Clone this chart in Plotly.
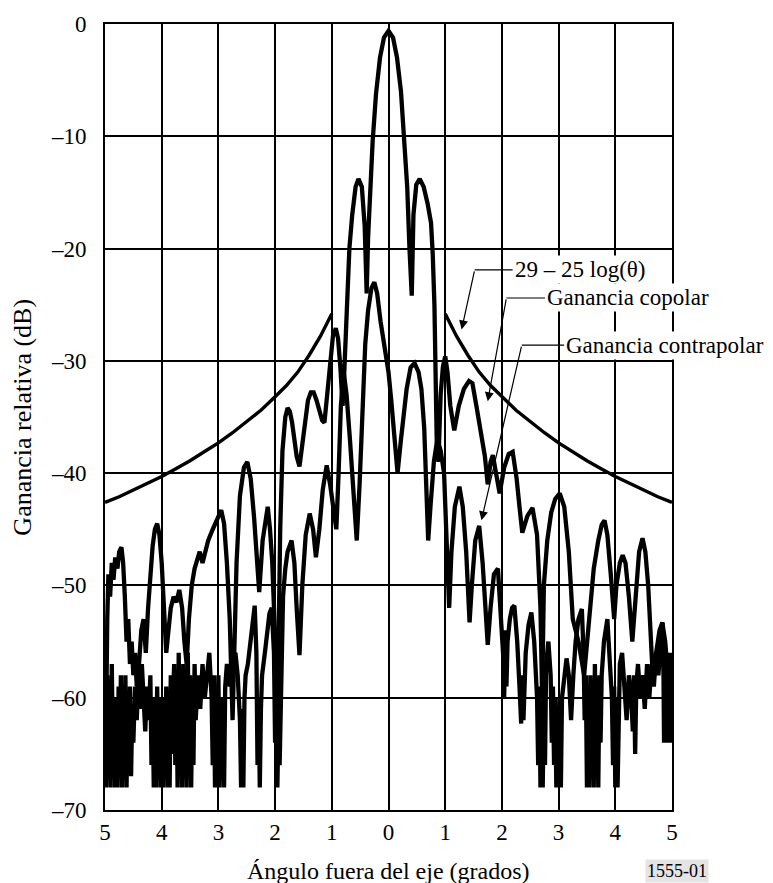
import plotly.graph_objects as go

# ---------------- data ----------------
copolar_theta = [
    -5.00, -4.98, -4.96, -4.94, -4.91, -4.88, -4.85, -4.82, -4.78, -4.75, -4.71, -4.68, -4.65, -4.62,
    -4.59, -4.56, -4.53, -4.50, -4.47, -4.44, -4.40, -4.36, -4.32, -4.28, -4.24, -4.20, -4.16, -4.12,
    -4.08, -4.04, -4.00, -3.96, -3.92, -3.88, -3.84, -3.79, -3.74, -3.69, -3.64, -3.60, -3.56, -3.52,
    -3.47, -3.42, -3.37, -3.33, -3.28, -3.23, -3.18, -3.10, -3.02, -2.95, -2.90, -2.85, -2.80, -2.77,
    -2.75, -2.72, -2.68, -2.62, -2.55, -2.49, -2.43, -2.37, -2.32, -2.28, -2.22, -2.16, -2.13, -2.09,
    -2.05, -2.02, -1.99, -1.97, -1.94, -1.91, -1.87, -1.82, -1.78, -1.74, -1.70, -1.66, -1.62, -1.57,
    -1.52, -1.47, -1.42, -1.37, -1.32, -1.27, -1.22, -1.17, -1.13, -1.08, -1.03, -0.98, -0.93, -0.89,
    -0.85, -0.81, -0.78, -0.74, -0.69, -0.64, -0.58, -0.53, -0.47, -0.42, -0.385, -0.36, -0.32, -0.28,
    -0.22, -0.15, -0.08, 0.00,
    0.08, 0.15, 0.22, 0.28, 0.33, 0.37, 0.41, 0.44, 0.49, 0.55, 0.62, 0.69, 0.75, 0.78,
    0.81, 0.85, 0.88, 0.92, 0.96, 1.00, 1.04, 1.09, 1.16, 1.24, 1.33, 1.42, 1.48, 1.55,
    1.62, 1.70, 1.75, 1.80, 1.84, 1.90, 1.96, 2.04, 2.12, 2.19, 2.26, 2.31, 2.36, 2.45,
    2.54, 2.62, 2.68, 2.71, 2.74, 2.80, 2.87, 2.94, 3.02, 3.10, 3.18, 3.25, 3.35, 3.45,
    3.55, 3.62, 3.70, 3.76, 3.81, 3.86, 3.92, 3.98, 4.02, 4.08, 4.13, 4.18, 4.24, 4.30,
    4.36, 4.42, 4.48, 4.53, 4.58, 4.62, 4.66, 4.72, 4.78, 4.83, 4.88, 4.93, 4.97, 5.00,
]
copolar_db = [
    -55, -62, -53, -49, -51, -48, -49.5, -47.5, -48.5, -47, -46.6, -48, -51, -55,
    -53, -57, -55, -58, -56, -59, -57, -54, -53, -56, -52, -49, -46.5, -45,
    -44.5, -45.5, -48, -52, -56, -54, -52, -51, -51.5, -50.4, -52, -55, -57, -53,
    -50, -48.5, -47.5, -47, -48, -47, -46, -45, -44, -43.3, -44.5, -48, -53, -58,
    -62, -56, -48, -42, -39.5, -39, -40.5, -44, -48, -50.6, -46, -43.5, -43, -45,
    -48, -52, -58, -66, -55, -45, -38, -35, -34.2, -34.5, -35.5, -37, -38.5, -39.4,
    -37.5, -35, -33.5, -32.8, -32.8, -33.5, -34.5, -35.3, -35.5, -33, -30, -27.8, -27.1, -28,
    -30.5, -34, -31, -25, -20, -17, -14.5, -13.8, -14.5, -18, -24, -19, -14.5, -10.5,
    -6.2, -3.0, -1.2, -0.6,
    -1.2, -3.0, -6.0, -10, -14.5, -20, -24.2, -17, -14.3, -13.8, -14.5, -16, -17.7, -20.5,
    -25, -37, -39, -33, -30.5, -29.6, -31, -34, -36.2, -34, -32.5, -31.8, -32, -34,
    -36, -38.5, -41, -39, -38.4, -40, -41.8, -39.5, -38.3, -38.1, -40.5, -43, -45.3, -43.8,
    -43.1, -45.5, -52, -60, -50, -46, -43.5, -42.3, -41.8, -43, -47, -53, -55, -58,
    -52, -48.5, -46, -44.6, -44.2, -45.5, -49, -53, -50, -48, -47.3, -48, -51, -55,
    -51, -47, -45.8, -47, -50, -55, -58, -56, -54, -53.3, -55, -58, -57, -60,
]

contrapolar_theta = [
    -5.00, -4.98, -4.96, -4.94, -4.92, -4.90, -4.88, -4.86, -4.84, -4.82, -4.80, -4.78, -4.76, -4.74,
    -4.72, -4.70, -4.68, -4.66, -4.64, -4.62, -4.60, -4.58, -4.56, -4.54, -4.52, -4.50, -4.47, -4.44,
    -4.41, -4.38, -4.35, -4.32, -4.29, -4.26, -4.23, -4.20, -4.18, -4.16, -4.14, -4.12, -4.10, -4.08,
    -4.06, -4.04, -4.02, -4.00, -3.98, -3.96, -3.94, -3.92, -3.90, -3.88, -3.86, -3.84, -3.82, -3.80,
    -3.78, -3.76, -3.74, -3.72, -3.70, -3.68, -3.66, -3.64, -3.62, -3.60, -3.58, -3.56, -3.54, -3.52,
    -3.50, -3.48, -3.46, -3.44, -3.42, -3.40, -3.36, -3.32, -3.28, -3.24, -3.20, -3.16, -3.12, -3.10,
    -3.08, -3.06, -3.04, -3.02, -3.00, -2.98, -2.96, -2.94, -2.92, -2.90, -2.88, -2.85, -2.80, -2.75,
    -2.70, -2.66, -2.62, -2.60, -2.58, -2.56, -2.54, -2.52, -2.48, -2.44, -2.40, -2.36, -2.33, -2.31,
    -2.29, -2.27, -2.25, -2.23, -2.18, -2.14, -2.10, -2.06, -2.02, -2.00, -1.98, -1.96, -1.94, -1.92,
    -1.89, -1.86, -1.82, -1.78, -1.71, -1.66, -1.62, -1.57, -1.52, -1.46, -1.39, -1.33, -1.28, -1.22,
    -1.16, -1.09, -1.03, -0.97, -0.92, -0.88, -0.84, -0.79, -0.74, -0.68, -0.62, -0.56, -0.51, -0.46,
    -0.41, -0.36, -0.30, -0.25, -0.20, -0.14, -0.07, 0.00, 0.05, 0.10, 0.16, 0.22, 0.27, 0.32,
    0.39, 0.46, 0.53, 0.58, 0.63, 0.67, 0.70, 0.74, 0.80, 0.86, 0.92, 0.98, 1.03, 1.07,
    1.11, 1.17, 1.25, 1.31, 1.37, 1.43, 1.47, 1.53, 1.60, 1.66, 1.71, 1.75, 1.80, 1.86,
    1.93, 1.98, 2.02, 2.04, 2.06, 2.08, 2.10, 2.14, 2.18, 2.22, 2.27, 2.31, 2.34, 2.36,
    2.38, 2.42, 2.47, 2.52, 2.57, 2.62, 2.64, 2.66, 2.68, 2.70, 2.72, 2.74, 2.76, 2.78,
    2.82, 2.86, 2.88, 2.90, 2.92, 2.94, 2.96, 2.98, 3.00, 3.02, 3.04, 3.06, 3.10, 3.14,
    3.18, 3.22, 3.26, 3.30, 3.35,
    3.41, 3.44, 3.46, 3.48, 3.50, 3.52, 3.54, 3.56, 3.58, 3.60, 3.62, 3.64, 3.66, 3.68,
    3.70, 3.72, 3.74, 3.76, 3.80, 3.86, 3.90, 3.94, 3.96, 3.98, 4.00, 4.02, 4.04, 4.06,
    4.08, 4.12, 4.16, 4.20, 4.24, 4.28, 4.31, 4.33, 4.35, 4.37, 4.40, 4.44, 4.48, 4.52,
    4.56, 4.60, 4.64, 4.68, 4.72, 4.76, 4.80, 4.83, 4.85, 4.86, 4.87, 4.88, 4.89, 4.90,
    4.91, 4.92, 4.93, 4.94, 4.95, 4.96, 4.97, 4.98, 4.99, 5.00,
]
contrapolar_db = [
    -56, -68, -58, -67, -60, -68, -57, -66, -60, -68, -62, -68, -59, -66,
    -58, -68, -61, -67, -58, -68, -60, -66, -59, -67, -61, -64, -59, -62,
    -58, -61, -57, -60, -63, -59, -62, -58, -66, -60, -68, -61, -68, -59,
    -67, -60, -68, -62, -68, -60, -67, -59, -68, -61, -68, -58, -65, -60,
    -57, -66, -58, -68, -56, -65, -58, -68, -57, -66, -59, -68, -56, -64,
    -58, -68, -60, -66, -57, -62, -58, -61, -57, -60, -58, -56, -60, -66,
    -58, -68, -60, -67, -58, -68, -61, -66, -60, -68, -59, -57, -59, -57,
    -56, -58, -62, -68, -61, -68, -60, -58, -57, -55, -53, -51.8, -56, -66,
    -60, -68, -61, -58, -56, -54, -52.5, -52, -56, -64, -58, -68, -62, -66,
    -56, -51, -48.5, -47, -46, -48, -52, -56.2, -50, -45.5, -43.6, -45, -47.5, -45,
    -41.5, -39.3, -41, -43.5, -45, -40, -34, -31, -33, -37, -42, -46, -41, -34,
    -28.5, -25.5, -23.5, -23, -24, -26.5, -29, -31, -33.6, -36.5, -40, -37, -34.5, -32.5,
    -30.6, -30.2, -31, -32.5, -36, -41, -46, -43, -39, -37, -38, -40, -46, -52,
    -47, -43, -41.2, -43, -47, -53.3, -50, -46, -44.7, -48, -52, -55.3, -52, -49,
    -48.5, -52, -56, -60, -54, -59, -55, -53, -52, -51.8, -55, -59, -62.3, -58,
    -62, -56, -53.5, -52.4, -55, -60, -66, -59, -68, -61, -68, -60, -66, -57,
    -55, -58, -64, -59, -66, -60, -68, -61, -68, -60, -68, -60, -58, -56.5,
    -58, -62, -58, -55, -53,
    -52.1, -56, -62, -58, -68, -60, -68, -58, -67, -59, -68, -57, -66, -60,
    -68, -58, -64, -58, -55, -53, -56, -60, -66, -59, -68, -60, -68, -60,
    -57, -56, -59, -62, -58, -60, -63, -58, -65, -59, -57, -60, -58, -61,
    -57, -60, -57, -59, -56, -58, -55, -53.3, -58, -64, -57, -63, -57, -64,
    -57, -63, -56, -64, -57, -63, -56, -64, -57, -63,
]

# envelope 29 - 25 log(theta), relative values
envelope_abs_theta = [1.0, 1.2, 1.4, 1.6, 1.8, 2.0, 2.25, 2.5, 2.75, 3.0, 3.25, 3.5, 3.75, 4.0, 4.25, 4.5, 4.75, 5.0]
envelope_db = [-25.8, -27.8, -29.5, -31.0, -32.2, -33.2, -34.4, -35.4, -36.4, -37.3, -38.1, -38.9, -39.6, -40.3, -40.9, -41.5, -42.1, -42.6]

x_tickvals = [-5, -4, -3, -2, -1, 0, 1, 2, 3, 4, 5]
x_ticktext = ["5", "4", "3", "2", "1", "0", "1", "2", "3", "4", "5"]
y_tickvals = [0, -10, -20, -30, -40, -50, -60, -70]
y_ticktext = ["0", "\u201310", "\u201320", "\u201330", "\u201340", "\u201350", "\u201360", "\u201370"]

FONT = "Liberation Serif, Times New Roman, serif"

fig = go.Figure()

env_left_x = [-t for t in reversed(envelope_abs_theta)]
env_left_y = list(reversed(envelope_db))
fig.add_trace(go.Scatter(x=env_left_x, y=env_left_y, mode="lines",
                         line=dict(color="black", width=3.4), hoverinfo="skip", showlegend=False))
fig.add_trace(go.Scatter(x=envelope_abs_theta, y=envelope_db, mode="lines",
                         line=dict(color="black", width=3.4), hoverinfo="skip", showlegend=False))
fig.add_trace(go.Scatter(x=contrapolar_theta, y=contrapolar_db, mode="lines", name="Ganancia contrapolar",
                         line=dict(color="black", width=4.3), showlegend=False))
fig.add_trace(go.Scatter(x=copolar_theta, y=copolar_db, mode="lines", name="Ganancia copolar",
                         line=dict(color="black", width=4.3), showlegend=False))

# leader lines: (corner x, text-side x, y, arrow tip x, arrow tip y)
leaders = [
    (1.52, 2.19, -21.9, 1.29, -27.2),
    (2.08, 2.76, -24.4, 1.75, -33.6),
    (2.35, 3.10, -28.6, 1.64, -44.2),
]
for x0, x1, yv, tx, ty in leaders:
    fig.add_shape(type="line", xref="x", yref="y", x0=x0, x1=x1, y0=yv, y1=yv,
                  line=dict(color="black", width=1.2), layer="above")
    fig.add_annotation(x=tx, y=ty, ax=x0, ay=yv, xref="x", yref="y", axref="x", ayref="y",
                       text="", showarrow=True, arrowhead=2, arrowsize=1.5, arrowwidth=1.2,
                       arrowcolor="black")

label_font = dict(family=FONT, size=23, color="black")
fig.add_annotation(x=2.19, y=-21.9, xref="x", yref="y", text="29 \u2013 25 log(\u03b8)", showarrow=False,
                   xanchor="left", yanchor="middle", font=label_font, bgcolor="white", borderpad=1)
fig.add_annotation(x=2.76, y=-24.4, xref="x", yref="y", text="Ganancia copolar", showarrow=False,
                   xanchor="left", yanchor="middle", font=label_font, bgcolor="white", borderpad=1)
fig.add_annotation(x=3.10, y=-28.6, xref="x", yref="y", text="Ganancia contrapolar", showarrow=False,
                   xanchor="left", yanchor="middle", font=label_font, bgcolor="white", borderpad=1)

# axis titles
fig.add_annotation(x=0.5, y=-0.077, xref="paper", yref="paper", text="\u00c1ngulo fuera del eje (grados)",
                   showarrow=False, xanchor="center", yanchor="middle",
                   font=dict(family=FONT, size=24, color="black"))
fig.add_annotation(x=-0.147, y=0.5, xref="paper", yref="paper", text="Ganancia relativa (dB)",
                   showarrow=False, textangle=-90, xanchor="center", yanchor="middle",
                   font=dict(family=FONT, size=26, color="black"))
fig.add_annotation(x=1.009, y=-0.078, xref="paper", yref="paper", text="1555-01",
                   showarrow=False, xanchor="center", yanchor="middle",
                   font=dict(family=FONT, size=18, color="black"), bgcolor="#e4e4e4", borderpad=1)

axis_common = dict(showgrid=True, gridcolor="black", gridwidth=2, showline=True, mirror=True,
                   linecolor="black", linewidth=2, zeroline=False, ticks="",
                   tickfont=dict(family=FONT, size=23, color="black"))

fig.update_layout(
    width=773, height=883, autosize=False,
    margin=dict(l=105, r=101, t=16, b=73),
    paper_bgcolor="white", plot_bgcolor="white",
    xaxis=dict(range=[-5, 5], tickmode="array", tickvals=x_tickvals, ticktext=x_ticktext,
               ticklabelstandoff=0, **axis_common),
    yaxis=dict(range=[-70, 0], tickmode="array", tickvals=y_tickvals, ticktext=y_ticktext,
               ticklabelstandoff=12, **axis_common),
    showlegend=False,
)

fig.write_html("out.html")
